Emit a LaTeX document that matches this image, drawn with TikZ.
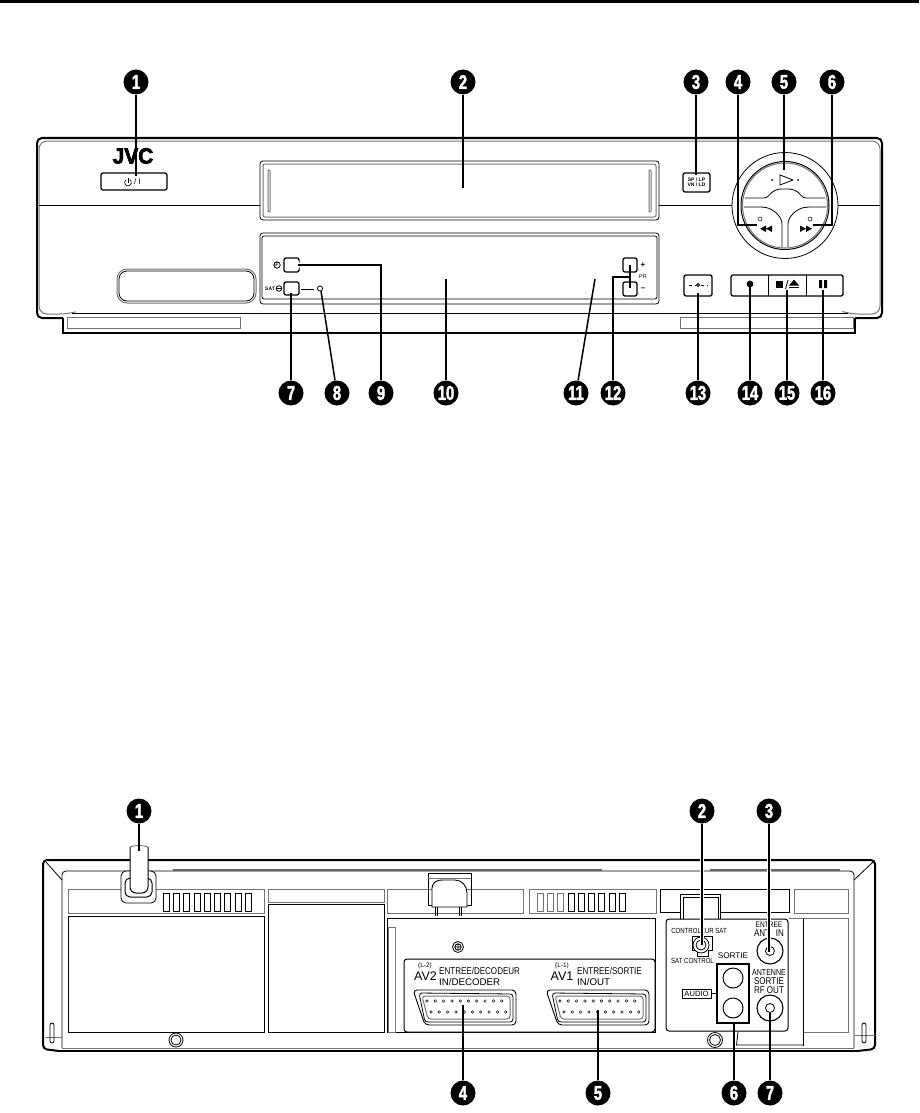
\documentclass[tikz,border=0pt]{standalone}
\usepackage{fontspec}
\setmainfont{Liberation Sans}
\newfontfamily\narrowfont[FakeStretch=0.82]{Liberation Sans}
\newfontfamily\numfont[FakeStretch=0.74,FakeBold=2]{Liberation Sans Bold}
\newfontfamily\logofont[FakeStretch=0.95,FakeBold=3]{Liberation Sans Bold}
\tikzset{
  callout/.style={circle,fill=black,text=white,inner sep=0pt,minimum size=25pt,font=\numfont\fontsize{20}{20}\selectfont},
  leader/.style={line width=1.5pt},
  haloleader/.style={leader,preaction={draw=white,line width=4.5pt}},
  thinline/.style={line width=0.8pt},
  greyline/.style={line width=1pt,draw=black!55},
  outline/.style={line width=2pt},
  panelbutton/.style={line width=1.3pt,rounded corners=2pt,fill=white},
  tinylabel/.style={inner sep=0pt,font=\narrowfont\fontsize{7.4}{7.4}\selectfont},
  smalllabel/.style={inner sep=0pt,font=\narrowfont\fontsize{9.8}{9.8}\selectfont},
  microlabel/.style={inner sep=0pt,font=\bfseries\fontsize{5}{5.4}\selectfont},
}
\begin{document}
\begin{tikzpicture}[x=1pt,y=-1pt]
  \useasboundingbox (0,0) rectangle (919,1113);
  \fill (0,0) rectangle (919,3);

  %% front panel
  \draw[outline,rounded corners=5pt] (63,318) -- (37,318) -- (37,138) -- (882,138) -- (882,318) -- (855,318);
  \draw[outline] (63,318) -- (63,333) -- (855,333) -- (855,318);
  \draw[greyline,rounded corners=8pt] (75,312) -- (68,314) -- (39,314) -- (39,141) -- (880,141) -- (880,314) -- (850,314) -- (844,312);
  \draw[thinline] (72,313) -- (848,313);
  \draw[thinline] (39,205) -- (260,205) (659,205) -- (732,205) (838,205) -- (880,205);
  \draw[greyline] (67,317) rectangle (240,328);
  \draw[greyline] (680,317) rectangle (853,328);
  % cassette slot
  \draw[thinline,rounded corners=3pt,fill=white] (260,161) rectangle (659,220);
  \draw[greyline,rounded corners=2pt] (263,164) rectangle (656,217);
  \draw[greyline,rounded corners=1pt] (268,170) rectangle (270,212);
  \draw[greyline,rounded corners=1pt] (649,170) rectangle (651,212);
  % display
  \draw[thinline,rounded corners=3pt,fill=white] (260,233) rectangle (659,304);
  \draw[thinline,rounded corners=2pt] (262,236) -- (657,236) -- (657,299) -- (262,299) -- cycle;
  \draw[greyline,rounded corners=10pt] (117,269) rectangle (256,303);
  \draw[thinline,rounded corners=8pt] (119,271) rectangle (254,301);

  \node[inner sep=0pt,font=\logofont\fontsize{22}{22}\selectfont] (logo) at (133,156) {JVC};
  \draw[panelbutton] (101,173) rectangle (167,190);
  \draw[line width=0.6pt] (126.3,179.6) arc[start angle=120,end angle=420,radius=3.4pt];
  \draw[line width=0.6pt] (128,177.5) -- (128,182.5);
  \node[inner sep=0pt,font=\fontsize{8}{8}\selectfont] (powerlabel) at (137.5,182) {/ I};
  \draw[panelbutton] (683,173) rectangle (710,192);
  \node[microlabel,align=center] (splabel) at (696.5,182.5) {SP / LP\\VN / LD};

  % clock and sat buttons
  \draw[panelbutton] (299,259) -- (299,258) -- (284,258) -- (284,272) -- (299,272) -- (299,271);
  \draw[panelbutton] (284,282) rectangle (299,295);
  \draw[thinline] (277,265) circle (3.2pt) (277,265) -- (277,262.5) (277,265) -- (274.5,265);
  \node[microlabel] (satlabel) at (270,289) {SAT};
  \draw[thinline] (279,288.5) circle (2.8pt) (276.5,288.5) -- (281.5,288.5);
  \draw[thinline] (301,289) -- (314,289);
  \draw[thinline] (320,288.5) circle (2.6pt);
  \draw[panelbutton] (623,258) rectangle (637,272);
  \draw[panelbutton] (623,282) rectangle (637,296);
  \node[inner sep=0pt,font=\bfseries\fontsize{8}{8}\selectfont] (pluslabel) at (643,265) {+};
  \node[inner sep=0pt,font=\fontsize{5.5}{6}\selectfont] (prlabel) at (643,277) {PR};
  \node[inner sep=0pt,font=\bfseries\fontsize{8}{8}\selectfont] (minuslabel) at (643,289) {–};

  % transport row
  \draw[panelbutton] (684,275) rectangle (712,296);
  \draw[thinline,dashed] (689,285) -- (695.5,285) (700.5,285) -- (707,285);
  \draw[thinline] (698,285) circle (1.5pt);
  \draw[panelbutton] (731,275) rectangle (843,296);
  \draw[thinline] (768,275) -- (768,296) (806,275) -- (806,296);
  \fill (750,284) circle (3.4pt);
  \fill (776,281) rectangle (783,288);
  \draw[thinline] (785.5,289) -- (788,280);
  \fill (789,288) rectangle (799,286.5);
  \fill (789,285.5) -- (799,285.5) -- (794,279.5) -- cycle;
  \fill (819,280) rectangle (822,288) (824,280) rectangle (827,288);

  % wheel
  \coordinate (wheel) at (785,205.5);
  \draw[thinline,fill=white] (wheel) circle (53pt);
  \draw[line width=1pt] (wheel) circle (44pt);
  \draw[greyline] (wheel) circle (42.5pt);
  \draw[thinline,fill=white,rounded corners=3pt] (825,198) -- (803,198) .. controls (797,190) and (792,189) .. (785,189) .. controls (778,189) and (773,190) .. (767,198) -- (745,198);
  \draw[thinline,rounded corners=3pt] (744,207) -- (763,207) .. controls (774,209) and (782,217) .. (782,227) -- (782,247);
  \draw[thinline,rounded corners=3pt] (826,207) -- (807,207) .. controls (796,209) and (788,217) .. (788,227) -- (788,247);
  \draw[thinline] (780,175) -- (793,180) -- (780,185) -- cycle;
  \fill (772,180) circle (1pt) (798,180) circle (1pt);
  \fill (772,225.5) -- (772,232) -- (766,228.7) -- cycle (766,225.5) -- (766,232) -- (760,228.7) -- cycle;
  \fill (800,225.5) -- (800,232) -- (806,228.7) -- cycle (806,225.5) -- (806,232) -- (812,228.7) -- cycle;
  \draw[line width=0.5pt] (760,219) circle (2pt) (810,219) circle (2pt);

  % numbered callouts, front
  \foreach \n/\x in {1/136,2/463,3/696,4/738,5/784,6/832}
    \node[callout] (f\n) at (\x,82) {\n};
  \foreach \n/\x in {7/291,8/337,9/381,10/446,11/576,12/613,13/698,14/750,15/787,16/823}
    \node[callout] (f\n) at (\x,393) {\n};
  \coordinate (f1end) at (136,176);
  \coordinate (f2end) at (463,188);
  \coordinate (f3end) at (696,175);
  \coordinate (f4end) at (757,225);
  \coordinate (f5end) at (784,170);
  \coordinate (f6end) at (813,225);
  \coordinate (f7end) at (291,293);
  \coordinate (f8end) at (321,291);
  \coordinate (f9end) at (298,265);
  \coordinate (f10end) at (446,279);
  \coordinate (f11end) at (595,279);
  \coordinate (f12end) at (630,277);
  \coordinate (f12up) at (630,265);
  \coordinate (f12down) at (630,288);
  \coordinate (f13end) at (698,293);
  \coordinate (f14end) at (750,287);
  \coordinate (f15end) at (787,290);
  \coordinate (f16end) at (823,290);
  \foreach \n in {1,2,3,5,7,8,10,11,13,14,15,16}
    \draw[leader] (f\n) -- (f\n end);
  \draw[leader] (f4) |- (f4end);
  \draw[leader] (f6) |- (f6end);
  \draw[leader] (f9) |- (f9end);
  \draw[leader] (f12) |- (f12end);
  \draw[leader] (f12up) -- (f12down);

  %% rear panel
  \draw[outline,rounded corners=4pt] (59,1051) -- (43,1049) -- (43,860) -- (875,860) -- (875,1049) -- (857,1051);
  \draw[line width=2.5pt] (59,1051) -- (857,1051);
  \draw[thinline] (46,862) -- (62,880) (873,862) -- (854,880);
  \draw[thinline,rounded corners=4pt] (62,1048) -- (62,871) -- (854,871) -- (854,1048);
  \draw[greyline] (62,1048) -- (854,1048);
  \draw[line width=1.4pt,draw=black!60] (173,870) -- (602,870) (710,870) -- (840,870);
  \draw[greyline] (45,1037) -- (62,1037) (854,1035) -- (875,1035);
  \draw[thinline,rounded corners=2pt] (50,1023) rectangle (54,1043);
  \draw[thinline,rounded corners=2pt] (862,1023) rectangle (866,1043);

  % grille boxes
  \draw[greyline] (68,889) rectangle (264,913);
  \draw[greyline] (268,889) rectangle (384,902);
  \draw[greyline] (387,889) rectangle (523,913);
  \draw[greyline] (529,889) rectangle (656,913);
  \draw[greyline] (794,889) rectangle (848,913);
  \draw[thinline] (68,916) rectangle (264,1032);
  \draw[thinline] (268,904) rectangle (384,1032);
  \foreach \i in {0,...,8}
    \draw[thinline] ({163+10.3*\i},893) rectangle ++(6,18);
  \foreach \i in {0,1,2}
    \draw[greyline] ({537+10.3*\i},893) rectangle ++(6,18);
  \foreach \i in {3,...,8}
    \draw[thinline] ({537+10.3*\i},893) rectangle ++(6,18);

  % mains lead
  \draw[thinline,rounded corners=5pt,fill=white] (121,871) rectangle (156,903);
  \draw[line width=1pt,rounded corners=5pt] (125,878) rectangle (152,897);
  \draw[line width=1pt,fill=white,rounded corners=6pt] (130,847) -- (130,893) -- (148,893) -- (148,847);
  \draw[thinline,draw=black!60] (130,847) .. controls (134,845) and (144,845) .. (148,847);

  % clamp on top edge
  \draw[thinline] (428,873) -- (428,905) -- (471,905) -- (471,873);
  \draw[thinline] (428,873) -- (471,873);
  \draw[greyline] (428,878) -- (471,878);
  \draw[line width=0.9pt,fill=white] (432,907) -- (432,888) .. controls (433,881) and (438,880) .. (443,880) -- (455,880) .. controls (462,880) and (467,886) .. (467,893) -- (467,907) -- cycle;
  \draw[thinline] (435,907) -- (435,916) (437.5,907) -- (437.5,916) (459,907) -- (459,916) (461.5,907) -- (461.5,916);

  % connector bay
  \draw[thinline] (387,1032) -- (387,918) -- (655,918) -- (655,1032) -- cycle;
  \draw[greyline] (388,927) rectangle (395,1032);
  \draw[thinline,fill=white] (458,947) circle (5.5pt);
  \draw[thinline] (458,947) circle (3.2pt) (455.5,947) -- (460.5,947) (458,944.5) -- (458,949.5);
  \draw[line width=1pt,rounded corners=3pt,fill=white] (404,959) rectangle (655,1032);
  \foreach \cx in {413,546} {
    \begin{scope}[shift={(\cx,988)}]
      \draw[line width=0.9pt,rounded corners=4pt] (0,2) -- (103,2) -- (103,37) -- (12,37) -- cycle;
      \draw[thinline,rounded corners=3pt] (6,5) -- (100,6) -- (100,34) -- (12,34) -- cycle;
      \draw[greyline,rounded corners=3pt] (9,8) -- (97,8) -- (97,31) -- (15,31) -- cycle;
      \foreach \i in {0,...,9} {
        \draw[line width=0.45pt] ({14+8.3*\i},13) circle (1.3pt);
        \draw[line width=0.45pt] ({18+8.3*\i},24) circle (1.3pt);
      }
    \end{scope}
  }
  \node[inner sep=0pt,font=\fontsize{6.5}{6.5}\selectfont] (lav2) at (425,965.5) {(L-2)};
  \node[inner sep=0pt,font=\fontsize{12.5}{12.5}\selectfont] (nav2) at (425.5,976) {AV2};
  \node[smalllabel,anchor=west] (sav2) at (439,971) {ENTREE/DECODEUR};
  \node[inner sep=0pt,font=\fontsize{9.7}{9.7}\selectfont,anchor=west] (iav2) at (439,982) {IN/DECODER};
  \node[inner sep=0pt,font=\fontsize{6.5}{6.5}\selectfont] (lav1) at (562,965.5) {(L-1)};
  \node[inner sep=0pt,font=\fontsize{12.5}{12.5}\selectfont] (nav1) at (562,976) {AV1};
  \node[smalllabel,anchor=west] (sav1) at (577,971) {ENTREE/SORTIE};
  \node[inner sep=0pt,font=\fontsize{9.7}{9.7}\selectfont,anchor=west] (iav1) at (577,982) {IN/OUT};

  % right hand box and terminals
  \draw[thinline] (660,912) -- (660,889) -- (789,889) -- (789,912) -- (720,912) -- (720,894) -- (680,894) -- (680,912) -- cycle;
  \draw[thinline] (683,919) -- (683,897) -- (718,897) -- (718,919);
  \draw[thinline] (680,912) -- (680,919) (720,912) -- (720,919);
  \draw[greyline] (789,918) -- (848,918) -- (848,1032) -- (803,1032);
  \draw[thinline] (803,919) -- (803,1046);
  \draw[thinline] (738,1032) -- (736.5,1045) -- (804,1045);
  \draw[line width=1pt,rounded corners=3pt,fill=white] (666,919) rectangle (788,1031);
  \node[tinylabel] (ctrlfr) at (699,931) {CONTROLEUR SAT};
  \node[tinylabel] (ctrlen) at (692.5,961) {SAT CONTROL};
  \draw[line width=0.9pt,fill=white] (692,936) -- (712,936) -- (712,950) -- (708,950) -- (708,956.5) -- (697,956.5) -- (697,950) -- (692,950) -- cycle;
  \draw[thinline,fill=white] (701,945) circle (8pt);
  \draw[thinline] (701,945) circle (5pt);
  \node[tinylabel,font=\narrowfont\fontsize{8}{8}\selectfont] (entree) at (769,925) {ENTREE};
  \node[smalllabel] (antin) at (769,933) {ANT.\ \ IN};
  \draw[line width=1.1pt] (770,951) circle (13pt);
  \draw[thinline] (770,951) circle (4.5pt);
  \node[tinylabel,font=\narrowfont\fontsize{8.6}{8.6}\selectfont] (antenne) at (769,972.5) {ANTENNE};
  \node[smalllabel] (sortierf) at (769,981.5) {SORTIE};
  \node[smalllabel] (rfout) at (769,990.5) {RF OUT};
  \draw[line width=1.1pt] (770,1008) circle (13pt);
  \draw[thinline] (770,1008) circle (4.5pt);
  \node[inner sep=0pt,font=\fontsize{8.2}{8.2}\selectfont] (sortie) at (733,956) {SORTIE};
  \draw[line width=2.4pt,fill=white] (717,964) rectangle (749,1023);
  \draw[line width=1pt] (733,978) circle (10pt) (733,1008) circle (10pt);
  \node[draw,thinline,inner sep=0pt,minimum width=29pt,minimum height=9pt,font=\fontsize{7.6}{7.6}\selectfont] (audio) at (696.5,993.5) {AUDIO};
  \coordinate (audiotick) at (717,993.5);
  \draw[thinline] (audio) -- (audiotick);

  % feet screws
  \draw[thinline] (176,1040) circle (7pt) (176,1040) circle (5pt);
  \draw[thinline] (715,1040) circle (7.5pt) (715,1040) circle (5.5pt);

  % numbered callouts, rear
  \foreach \n/\x in {1/139,2/702,3/769}
    \node[callout] (r\n) at (\x,811) {\n};
  \foreach \n/\x in {4/463,5/598,6/734,7/770}
    \node[callout] (r\n) at (\x,1093) {\n};
  \coordinate (r1end) at (139,851);
  \coordinate (r2end) at (702,945);
  \coordinate (r3end) at (769,952);
  \coordinate (r4end) at (463,1005);
  \coordinate (r5end) at (598,1010);
  \coordinate (r6end) at (734,1023);
  \coordinate (r7end) at (770,1013);
  \draw[leader] (r1) -- (r1end);
  \draw[haloleader] (r2) -- (r2end);
  \draw[haloleader] (r3) -- (r3end);
  \draw[leader] (r4) -- (r4end);
  \draw[leader] (r5) -- (r5end);
  \draw[leader] (r6) -- (r6end);
  \draw[leader] (r7) -- (r7end);
\end{tikzpicture}
\end{document}
